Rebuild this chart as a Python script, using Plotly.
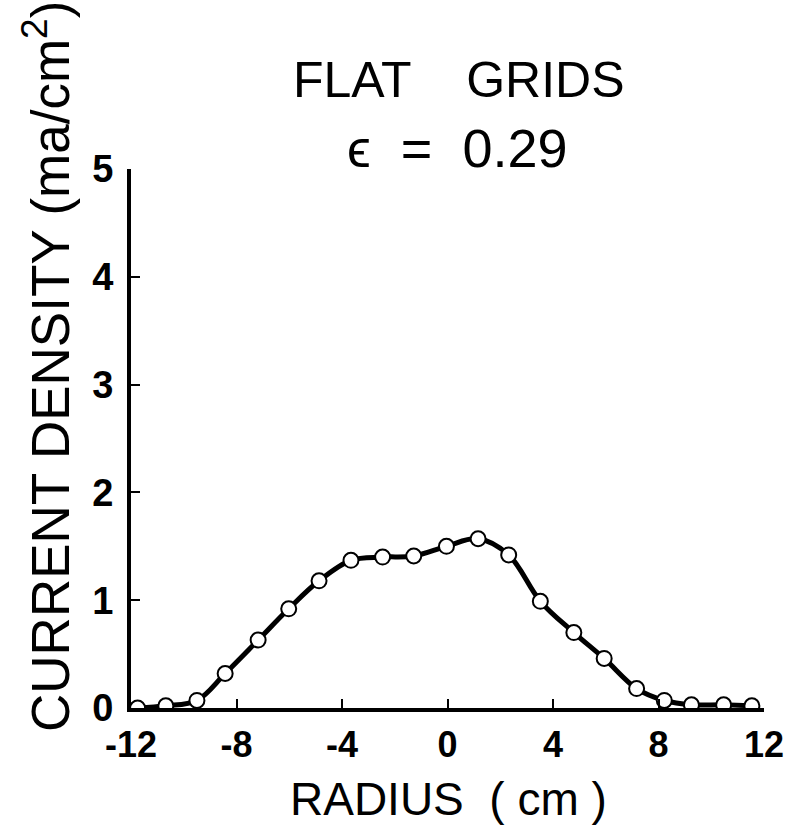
import plotly.graph_objects as go

# Data
radius_cm = [-11.75, -10.68, -9.50, -8.43, -7.18, -6.02, -4.87, -3.66, -2.46, -1.28,
             -0.04, 1.16, 2.32, 3.52, 4.79, 5.94, 7.17, 8.22, 9.25, 10.47, 11.54]
current_density = [0.00, 0.02, 0.07, 0.32, 0.63, 0.92, 1.18, 1.37, 1.40, 1.41,
                   1.50, 1.57, 1.42, 0.99, 0.70, 0.46, 0.18, 0.07, 0.03, 0.03, 0.02]

x_tick_vals = [-12, -8, -4, 0, 4, 8, 12]
x_tick_text = ["-12", "-8", "-4", "0", "4", "8", "12"]
y_tick_vals = [0, 1, 2, 3, 4, 5]
y_tick_text = ["0", "1", "2", "3", "4", "5"]

title_line1 = "FLAT    GRIDS"
title_line2 = "ϵ  =  0.29"
x_title = "RADIUS  ( cm )"
y_title = "CURRENT DENSITY (ma/cm<sup>2</sup>)"

FONT = "Liberation Sans"

fig = go.Figure()
fig.add_trace(go.Scatter(
    x=radius_cm, y=current_density,
    mode="lines+markers",
    line=dict(color="black", width=5, shape="spline", smoothing=1.0),
    marker=dict(size=15, color="white", line=dict(color="black", width=2)),
    cliponaxis=True,
    showlegend=False,
))

W, H = 796, 828
L, R, T, B = 131, 25, 169, 120

fig.update_layout(
    width=W, height=H,
    margin=dict(l=L, r=R, t=T, b=B, pad=0),
    paper_bgcolor="white", plot_bgcolor="white",
    font=dict(family=FONT, color="black"),
)

fig.update_xaxes(
    range=[-12, 12], tickvals=x_tick_vals, ticktext=x_tick_text,
    showgrid=False, zeroline=False,
    showline=True, linecolor="black", linewidth=4,
    ticks="inside", ticklen=9, tickwidth=2, tickcolor="black",
    tickfont=dict(family=FONT, size=36, color="black", weight="bold"),
    ticklabelstandoff=2,
)
fig.update_yaxes(
    range=[0, 5], tickvals=y_tick_vals, ticktext=y_tick_text,
    showgrid=False, zeroline=False,
    showline=True, linecolor="black", linewidth=4,
    ticks="inside", ticklen=9, tickwidth=2, tickcolor="black",
    tickfont=dict(family=FONT, size=38, color="black", weight="bold"),
    ticklabelstandoff=6,
)

pw, ph = W - L - R, H - T - B

def px(xp):
    return (xp - L) / pw

def py(yp):
    return (H - B - yp) / ph

fig.add_annotation(text=title_line1, x=px(463), y=py(80), xref="paper", yref="paper",
                   showarrow=False, font=dict(family=FONT, size=50, color="black"),
                   xanchor="center", yanchor="middle")
fig.add_annotation(text=title_line2, x=px(461), y=py(148), xref="paper", yref="paper",
                   showarrow=False, font=dict(family=FONT, size=54, color="black"),
                   xanchor="center", yanchor="middle")
fig.add_annotation(text=x_title, x=px(452), y=py(799), xref="paper", yref="paper",
                   showarrow=False, font=dict(family=FONT, size=46, color="black"),
                   xanchor="center", yanchor="middle")
fig.add_annotation(text=y_title, x=px(45), y=py(366), xref="paper", yref="paper",
                   showarrow=False, textangle=-90,
                   font=dict(family=FONT, size=53, color="black"),
                   xanchor="center", yanchor="middle")

fig.write_html("out.html")
